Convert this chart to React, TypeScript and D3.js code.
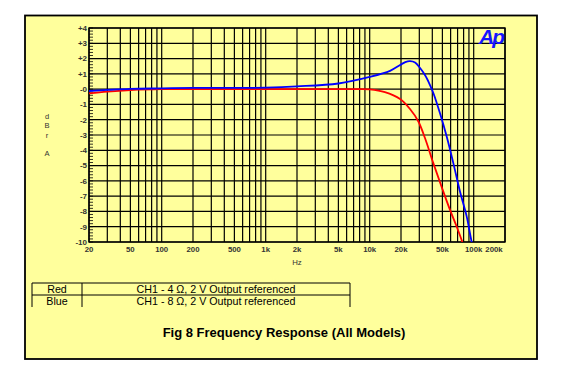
import React from "react";
import * as d3 from "d3";

const W = 565;
const H = 384;

// Red: CH1 - 4 Ω
const redFreq = [20, 30, 50, 100, 200, 500, 1000, 2000, 5000, 8000, 10000, 14000, 19600, 24400, 29300, 34000, 40900, 49200, 59200, 68700, 77800, 85000];
const redDb = [-0.28, -0.16, -0.06, 0, 0, 0, 0, 0, 0, 0, -0.02, -0.2, -0.65, -1.3, -2.1, -3.2, -4.84, -6.4, -7.9, -9.0, -10.0, -10.8];

// Blue: CH1 - 8 Ω
const blueFreq = [20, 30, 50, 100, 200, 500, 1000, 2000, 5000, 10000, 15700, 19600, 22000, 24400, 27300, 30500, 34000, 38000, 41000, 47500, 55000, 63700, 73800, 85700, 95700, 105000];
const blueDb = [-0.12, -0.05, 0.02, 0.05, 0.08, 0.08, 0.1, 0.18, 0.37, 0.8, 1.2, 1.58, 1.77, 1.83, 1.74, 1.38, 0.92, 0.27, -0.27, -1.6, -3.1, -4.84, -6.7, -8.34, -10.0, -11.0];

const xTickValues = [20, 50, 100, 200, 500, 1000, 2000, 5000, 10000, 20000, 50000, 100000, 200000];
const xTickLabels = ["20", "50", "100", "200", "500", "1k", "2k", "5k", "10k", "20k", "50k", "100k", "200k"];
const yTickValues = [4, 3, 2, 1, 0, -1, -2, -3, -4, -5, -6, -7, -8, -9, -10];
const yTickLabels = ["+4", "+3", "+2", "+1", "-0", "-1", "-2", "-3", "-4", "-5", "-6", "-7", "-8", "-9", "-10"];

const legendNames = ["Red", "Blue"];
const legendTexts = ["CH1 - 4 Ω, 2 V Output referenced", "CH1 - 8 Ω, 2 V Output referenced"];
const title = "Fig 8 Frequency Response (All Models)";
const yAxisLetters = ["d", "B", "r", "", "A"];

const BG = "#FFFF9C";

export default function App() {
  const left = 89, right = 505, top = 28, bottom = 242;
  const x = d3.scaleLog().domain([20, 200000]).range([left, right]);
  const y = d3.scaleLinear().domain([-10, 4]).range([bottom, top]);

  const gridF: number[] = [];
  for (let dec = 10; dec <= 100000; dec *= 10) {
    for (let m = 1; m <= 9; m++) {
      const f = dec * m;
      if (f >= 20 && f <= 100000) gridF.push(f);
    }
  }
  gridF.push(200000);

  const minorY: number[] = [];
  for (let v = -10; v <= 4.001; v += 0.2) minorY.push(Math.round(v * 10) / 10);

  const line = d3
    .line<[number, number]>()
    .x((d) => x(d[0]))
    .y((d) => y(d[1]))
    .curve(d3.curveCatmullRom.alpha(0.5));

  const redPath = line(redFreq.map((f, i) => [f, redDb[i]]));
  const bluePath = line(blueFreq.map((f, i) => [f, blueDb[i]]));

  const font = "Arial, 'Liberation Sans', sans-serif";

  return (
    <svg
      width={W}
      height={H}
      style={{ position: "absolute", left: 0, top: 0, background: "#fff" }}
      fontFamily={font}
    >
      <rect x={25} y={15.5} width={512} height={343.5} fill={BG} stroke="#000" strokeWidth={1.8} />
      <defs>
        <clipPath id="plotClip">
          <rect x={left} y={top} width={right - left} height={bottom - top} />
        </clipPath>
      </defs>

      {gridF.map((f) => (
        <line key={"v" + f} x1={x(f)} x2={x(f)} y1={top} y2={bottom} stroke="#000" strokeWidth={1.2} />
      ))}
      {yTickValues.map((v) => (
        <line key={"h" + v} x1={left} x2={right} y1={y(v)} y2={y(v)} stroke="#000" strokeWidth={1.2} />
      ))}
      {minorY.map((v) => (
        <line key={"m" + v} x1={left} x2={left + 4} y1={y(v)} y2={y(v)} stroke="#000" strokeWidth={0.8} />
      ))}
      <rect x={left} y={top} width={right - left} height={bottom - top} fill="none" stroke="#000" strokeWidth={1.4} />

      <g clipPath="url(#plotClip)">
        <path d={redPath || ""} fill="none" stroke="#ff0000" strokeWidth={1.8} />
        <path d={bluePath || ""} fill="none" stroke="#0000ff" strokeWidth={1.8} />
      </g>

      {yTickValues.map((v, i) => (
        <text key={"yl" + v} x={87} y={y(v) + 2.8} textAnchor="end" fontSize={8} fontWeight="bold" fill="#333">
          {yTickLabels[i]}
        </text>
      ))}
      {yAxisLetters.map((c, i) => (
        <text key={"ya" + i} x={47} y={119 + i * 9.25} textAnchor="middle" fontSize={7.5} fill="#333">
          {c}
        </text>
      ))}

      {xTickValues.map((v, i) => (
        <text
          key={"xl" + v}
          x={v === 200000 ? x(v) - 11 : x(v)}
          y={251.5}
          textAnchor="middle"
          fontSize={7.8}
          fontWeight="bold"
          fill="#333"
        >
          {xTickLabels[i]}
        </text>
      ))}
      <text x={297} y={265} textAnchor="middle" fontSize={7.8} fill="#333">
        Hz
      </text>

      <text x={479} y={44} fontSize={21} fontWeight="bold" fontStyle="italic" fill="#1414ff" letterSpacing={-1.8}>
        Ap
      </text>

      <g stroke="#000" strokeWidth={1}>
        <line x1={32} x2={350} y1={283} y2={283} />
        <line x1={32} x2={350} y1={295} y2={295} />
        <line x1={32} x2={32} y1={283} y2={307} />
        <line x1={82} x2={82} y1={283} y2={307} />
        <line x1={350} x2={350} y1={283} y2={307} />
      </g>
      {legendNames.map((n, i) => (
        <g key={n}>
          <text x={57} y={292.8 + i * 12} textAnchor="middle" fontSize={10.7} fill="#000">
            {n}
          </text>
          <text x={216} y={292.8 + i * 12} textAnchor="middle" fontSize={10.7} fill="#000">
            {legendTexts[i]}
          </text>
        </g>
      ))}

      <text x={284} y={336.5} textAnchor="middle" fontSize={13} fontWeight="bold" fill="#000">
        {title}
      </text>
    </svg>
  );
}
